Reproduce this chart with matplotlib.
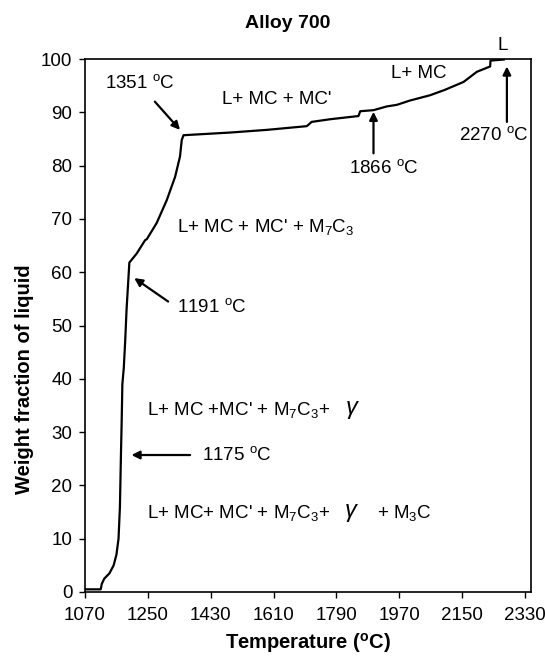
import numpy as np
import matplotlib
matplotlib.use("Agg")
import matplotlib.pyplot as plt

plt.rcParams['font.family'] = ['Liberation Sans', 'DejaVu Sans']
plt.rcParams['mathtext.fontset'] = 'custom'
plt.rcParams['mathtext.rm'] = 'Liberation Sans'
plt.rcParams['mathtext.it'] = 'Liberation Sans:italic'
plt.rcParams['mathtext.bf'] = 'Liberation Sans:bold'

# liquid fraction curve
temp = [1070, 1115, 1118, 1125, 1140, 1152, 1160, 1166, 1170, 1173, 1175, 1177,
        1181, 1185, 1189, 1194, 1197, 1218, 1242, 1247, 1275, 1304, 1328, 1342,
        1347, 1352, 1485, 1590, 1705, 1719, 1772, 1853, 1858, 1896, 1934, 1963,
        2000, 2058, 2100, 2154, 2192, 2230, 2231, 2269]
frac = [0.5, 0.5, 1.5, 2.5, 3.5, 5.0, 7.0, 10.0, 16.0, 26.0, 32.0, 39.0,
        42.0, 47.0, 53.0, 58.5, 61.8, 63.5, 66.0, 66.2, 69.2, 73.5, 77.9, 81.7,
        84.8, 85.7, 86.2, 86.7, 87.4, 88.2, 88.7, 89.3, 90.2, 90.4, 91.1, 91.4,
        92.2, 93.2, 94.2, 95.7, 97.6, 98.6, 99.7, 99.9]

xticks = [1070, 1250, 1430, 1610, 1790, 1970, 2150, 2330]
yticks = [0, 10, 20, 30, 40, 50, 60, 70, 80, 90, 100]

fig = plt.figure(figsize=(5.45, 6.63), dpi=100)
ax = fig.add_axes([85/545, 1-592/663, (531-85)/545, (592-59)/663])

ax.plot(temp, frac, color='black', lw=1.6)

ax.set_xlim(1070, 2347)
ax.set_ylim(0, 100)
ax.set_xticks(xticks)
ax.set_yticks(yticks)
ax.tick_params(axis='both', direction='out', length=4, width=1, labelsize=13.5)
ax.tick_params(axis='x', pad=7)
ax.tick_params(axis='y', pad=5)
for s in ax.spines.values():
    s.set_linewidth(1.2)
    s.set_color('black')

ax.set_xlabel(r'Temperature ($\mathbf{^o}$C)', fontsize=14.5, fontweight='bold', labelpad=5)
ax.set_ylabel('Weight fraction of liquid', fontsize=14.5, fontweight='bold')
ax.yaxis.set_label_coords(-0.115, 0.40)
fig.text(288/545, 1-23/663, 'Alloy 700', fontsize=14, fontweight='bold', ha='center', va='center')

fs = 13.5
deg = r'$^{\rm o}$C'
arrow = dict(arrowstyle='-|>', lw=1.6, color='black', mutation_scale=12, shrinkA=0, shrinkB=0)

ax.text(1328, 95.5, '1351 ' + deg, fontsize=fs, ha='right', va='center')
ax.annotate('', xy=(1342, 86.7), xytext=(1270, 92), arrowprops=arrow)
ax.text(1620, 92.4, "L+ MC + MC'", fontsize=fs, ha='center', va='center')
ax.text(2025, 97.3, 'L+ MC', fontsize=fs, ha='center', va='center')
ax.text(1925, 79.5, '1866 ' + deg, fontsize=fs, ha='center', va='center')
ax.annotate('', xy=(1896, 90.1), xytext=(1896, 82.3), arrowprops=arrow)
ax.text(2240, 85.7, '2270 ' + deg, fontsize=fs, ha='center', va='center')
ax.annotate('', xy=(2278, 98.6), xytext=(2278, 88.2), arrowprops=arrow)
ax.text(2267, 102.6, 'L', fontsize=fs, ha='center', va='center', clip_on=False)

ax.text(1588, 68.5, r"L+ MC + MC' + M$_7$C$_3$", fontsize=fs, ha='center', va='center')
ax.text(1332, 53.5, '1191 ' + deg, fontsize=fs, ha='left', va='center')
ax.annotate('', xy=(1211, 58.9), xytext=(1308, 54.5), arrowprops=arrow)

ax.text(1248, 34.1, r"L+ MC +MC' + M$_7$C$_3$+", fontsize=fs, ha='left', va='center')
ax.text(1837, 34.1, r'$\gamma$', fontsize=17, ha='center', va='center')
ax.text(1404, 25.7, '1175 ' + deg, fontsize=fs, ha='left', va='center')
ax.annotate('', xy=(1203, 25.7), xytext=(1371, 25.7), arrowprops=arrow)

ax.text(1248, 14.8, r"L+ MC+ MC' + M$_7$C$_3$+", fontsize=fs, ha='left', va='center')
ax.text(1834, 14.8, r'$\gamma$', fontsize=17, ha='center', va='center')
ax.text(1905, 14.8, r'+ M$_3$C', fontsize=fs, ha='left', va='center')

fig.savefig('out.png', dpi=100)
